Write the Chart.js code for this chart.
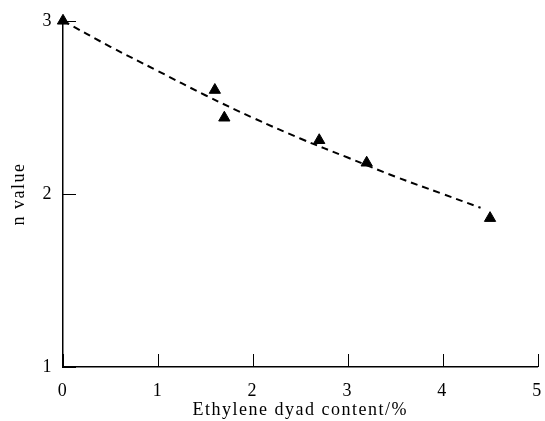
<!DOCTYPE html>
<html>
<head>
<meta charset="utf-8">
<script src="https://cdn.jsdelivr.net/npm/chart.js@4"></script>
<style>
  html, body { margin: 0; padding: 0; background: #fff; }
  #wrap { width: 545px; height: 421px; }
</style>
</head>
<body>
<div id="wrap"><canvas id="chart"></canvas></div>
<script>
// measured points
const dyadContent = [0, 1.6, 1.7, 2.7, 3.2, 4.5];
const nValues = [3.0, 2.6, 2.44, 2.31, 2.18, 1.86];

// dashed fit curve
const fitX = [0, 0.5, 1, 1.5, 2, 2.5, 3, 3.5, 4, 4.4];
const fitY = [3.0, 2.85, 2.71, 2.57, 2.44, 2.32, 2.21, 2.10, 2.00, 1.92];

const xTicks = [0, 1, 2, 3, 4, 5];
const yTicks = [1, 2, 3];

const font = "'Liberation Serif', 'Times New Roman', serif";

// wider letter spacing like the scanned figure
const spacing = {
    id: 'spacing',
    beforeInit(chart) { chart.ctx.letterSpacing = '1.5px'; },
    beforeDraw(chart) { chart.ctx.letterSpacing = '1.5px'; }
};

// ticks drawn inward from the axis lines
const inwardTicks = {
    id: 'inwardTicks',
    afterDraw(chart) {
        const ctx = chart.ctx;
        const xs = chart.scales.x, ys = chart.scales.y;
        const area = chart.chartArea;
        ctx.save();
        ctx.strokeStyle = '#000';
        ctx.lineWidth = 1;
        ctx.beginPath();
        xTicks.forEach(v => {
            const px = Math.round(xs.getPixelForValue(v)) + 0.5;
            ctx.moveTo(px, area.bottom);
            ctx.lineTo(px, area.bottom - 13);
        });
        yTicks.forEach(v => {
            const py = Math.round(ys.getPixelForValue(v)) + 0.5;
            ctx.moveTo(area.left, py);
            ctx.lineTo(area.left + 13, py);
        });
        ctx.stroke();
        ctx.restore();
    }
};

const ctx = document.getElementById('chart').getContext('2d');
new Chart(ctx, {
    type: 'scatter',
    data: {
        datasets: [{
            label: 'fit',
            data: fitX.map((x, i) => ({ x: x, y: fitY[i] })),
            showLine: true,
            borderColor: '#000',
            borderWidth: 2,
            borderDash: [7, 5],
            pointRadius: 0,
            tension: 0.4,
            clip: false
        }, {
            label: 'n value',
            data: dyadContent.map((x, i) => ({ x: x, y: nValues[i] })),
            pointStyle: 'triangle',
            pointRadius: 6.5,
            backgroundColor: '#000',
            borderColor: '#000',
            borderWidth: 1,
            clip: false
        }]
    },
    options: {
        responsive: true,
        maintainAspectRatio: false,
        animation: false,
        layout: { padding: { top: 18, right: 0, left: 0, bottom: 0 } },
        plugins: {
            legend: { display: false },
            tooltip: { enabled: false }
        },
        scales: {
            x: {
                type: 'linear',
                min: 0,
                max: 5,
                afterBuildTicks: axis => { axis.ticks = xTicks.map(v => ({ value: v })); },
                afterFit: axis => {
                    axis.height = 54;
                    axis.paddingLeft = 0;
                    axis.paddingRight = 6;
                },
                grid: { display: false, drawTicks: false },
                border: { display: true, color: '#000', width: 1.5 },
                ticks: { color: '#000', font: { family: font, size: 18 }, padding: 13, maxRotation: 0 },
                title: { display: true, text: 'Ethylene dyad content/%', color: '#000', font: { family: font, size: 18 }, padding: { top: 1, bottom: 0 } }
            },
            y: {
                type: 'linear',
                min: 1,
                max: 3,
                afterBuildTicks: axis => { axis.ticks = yTicks.map(v => ({ value: v })); },
                afterFit: axis => { axis.width = 63; },
                grid: { display: false, drawTicks: false },
                border: { display: true, color: '#000', width: 1.5 },
                ticks: { color: '#000', font: { family: font, size: 18 }, padding: 10 },
                title: { display: true, text: 'n value', color: '#000', font: { family: font, size: 18 }, padding: { top: 8, bottom: 6 } }
            }
        }
    },
    plugins: [spacing, inwardTicks]
});
</script>
</body>
</html>
